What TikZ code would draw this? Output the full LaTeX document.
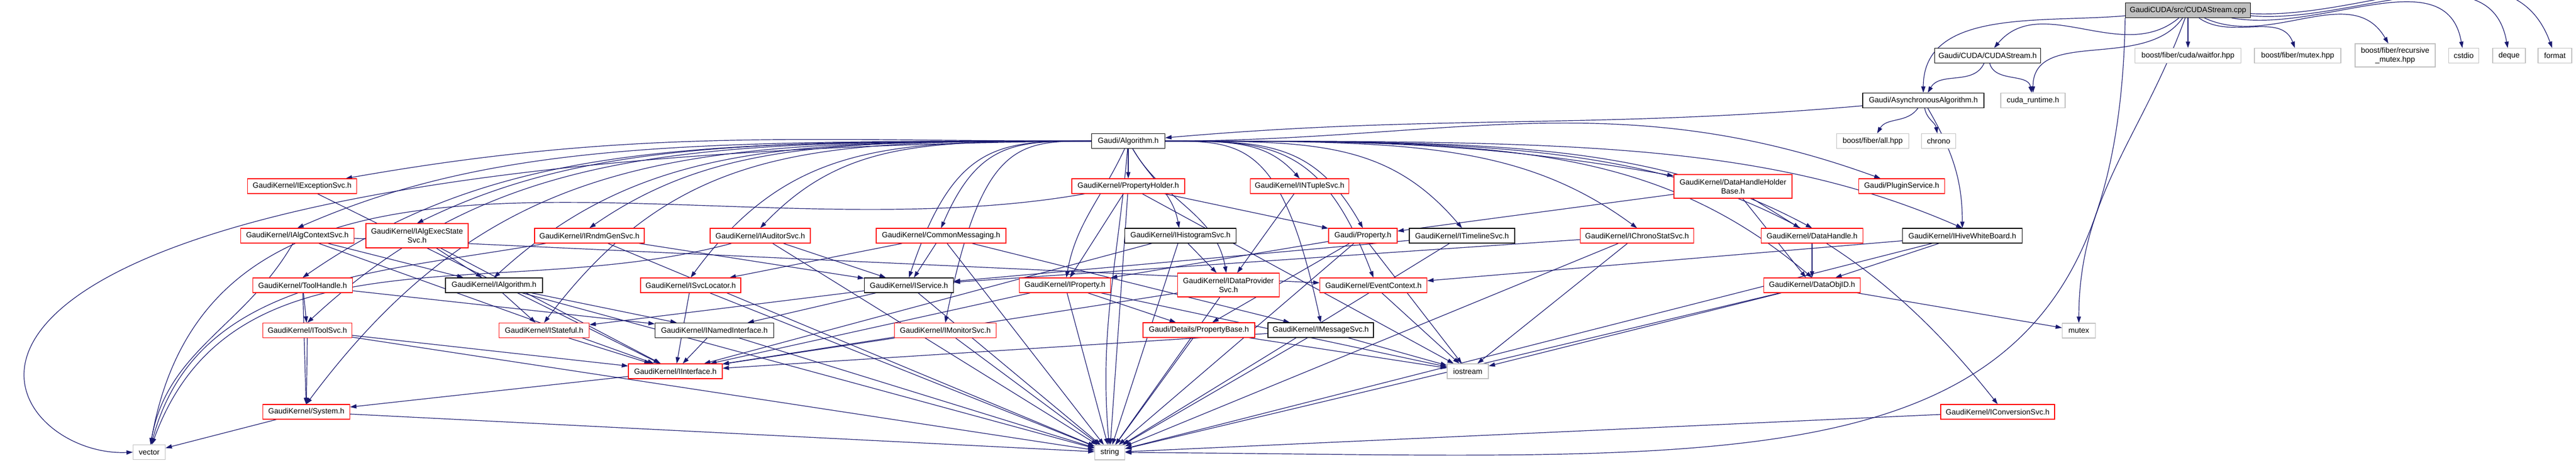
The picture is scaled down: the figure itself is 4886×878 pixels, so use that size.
\documentclass[tikz,border=0pt]{standalone}
\usepackage{fontspec}
\setmainfont{Liberation Sans}
\usetikzlibrary{arrows.meta,calc}
\pgfdeclarelayer{edges}
\pgfsetlayers{edges,main}
\definecolor{edgeblue}{HTML}{191970}
\definecolor{extgray}{HTML}{BFBFBF}
\tikzset{
    hdr/.style={
        rectangle,
        fill=white,
        line width=0.3pt,
        minimum height=7pt,
        inner xsep=1pt,
        inner ysep=0pt,
        align=center,
        font=\fontsize{3.6}{4.25}\selectfont
    },
    known/.style={draw=black},
    trunc/.style={draw=red},
    ext/.style={draw=extgray},
    root/.style={draw=black,fill=extgray},
    dep/.style={draw=edgeblue,line width=0.3pt,-{Triangle[length=3pt,width=2pt]}}
}
\newcommand{\hdr}[6] {
    \node[hdr,#5,minimum width=#4*0.25pt] (#1) at (#2,-#3) {#6};
}
\begin{document}
\begin{tikzpicture}[x=0.25pt,y=0.25pt]
    \useasboundingbox (0,0) rectangle (4886,-878);
    \hdr{cpp}{4150}{19.5}{237}{root}{GaudiCUDA/src/CUDAStream.cpp}
    \hdr{cudah}{3770}{105.5}{201}{known}{Gaudi/CUDA/CUDAStream.h}
    \hdr{waitfor}{4150}{105.5}{201}{ext}{boost/fiber/cuda/waitfor.hpp}
    \hdr{fmutex}{4358}{105.5}{164}{ext}{boost/fiber/mutex.hpp}
    \hdr{frmutex}{4543}{105}{152}{ext,minimum height=11pt}{boost/fiber/recursive\\\_mutex.hpp}
    \hdr{cstdio}{4673}{105.5}{57}{ext}{cstdio}
    \hdr{deque}{4759}{105.5}{62}{ext}{deque}
    \hdr{format}{4846}{105.5}{64}{ext}{format}
    \hdr{async}{3648}{190.5}{230}{known}{Gaudi/AsynchronousAlgorithm.h}
    \hdr{cudart}{3856}{190.5}{122}{ext}{cuda\_runtime.h}
    \hdr{alg}{2140}{267.5}{139}{known}{Gaudi/Algorithm.h}
    \hdr{fall}{3552}{267.5}{137}{ext}{boost/fiber/all.hpp}
    \hdr{chrono}{3677}{267.5}{65}{ext}{chrono}
    \hdr{iexc}{573}{353}{207}{trunc}{GaudiKernel/IExceptionSvc.h}
    \hdr{pholder}{2140}{353}{214}{trunc}{GaudiKernel/PropertyHolder.h}
    \hdr{intuple}{2465}{353}{187}{trunc}{GaudiKernel/INTupleSvc.h}
    \hdr{dhhb}{3287}{353.5}{224}{trunc,minimum height=11.25pt}{GaudiKernel/DataHandleHolder\\Base.h}
    \hdr{plugin}{3607}{353}{163}{trunc}{Gaudi/PluginService.h}
    \hdr{ialgctx}{564}{447}{215}{trunc}{GaudiKernel/IAlgContextSvc.h}
    \hdr{iexec}{791}{447}{194}{trunc,minimum height=11.5pt}{GaudiKernel/IAlgExecState\\Svc.h}
    \hdr{irndm}{1118}{447}{208}{trunc}{GaudiKernel/IRndmGenSvc.h}
    \hdr{iaud}{1442}{447}{190}{trunc}{GaudiKernel/IAuditorSvc.h}
    \hdr{cmsg}{1785}{447}{246}{trunc}{GaudiKernel/CommonMessaging.h}
    \hdr{ihist}{2239}{447}{211}{known}{GaudiKernel/IHistogramSvc.h}
    \hdr{prop}{2585}{447}{130}{trunc}{Gaudi/Property.h}
    \hdr{itime}{2773}{447}{200}{known}{GaudiKernel/ITimelineSvc.h}
    \hdr{ichrono}{3105}{447}{215}{trunc}{GaudiKernel/IChronoStatSvc.h}
    \hdr{dhandle}{3437}{447}{193}{trunc}{GaudiKernel/DataHandle.h}
    \hdr{ihive}{3722}{447}{227}{known}{GaudiKernel/IHiveWhiteBoard.h}
    \hdr{toolh}{574}{541}{189}{trunc}{GaudiKernel/ToolHandle.h}
    \hdr{ialgo}{937}{541}{184}{known}{GaudiKernel/IAlgorithm.h}
    \hdr{isvcloc}{1310}{541}{190}{trunc}{GaudiKernel/ISvcLocator.h}
    \hdr{iserv}{1724}{541}{169}{known}{GaudiKernel/IService.h}
    \hdr{iprop}{2020}{541}{173}{trunc}{GaudiKernel/IProperty.h}
    \hdr{idp}{2330}{540.5}{193}{trunc,minimum height=11.25pt}{GaudiKernel/IDataProvider\\Svc.h}
    \hdr{evctx}{2605}{541}{203}{trunc}{GaudiKernel/EventContext.h}
    \hdr{dobjid}{3437}{541}{183}{trunc}{GaudiKernel/DataObjID.h}
    \hdr{itoolsvc}{583}{626.5}{169}{trunc}{GaudiKernel/IToolSvc.h}
    \hdr{istate}{1032}{626.5}{171}{trunc}{GaudiKernel/IStateful.h}
    \hdr{inamed}{1355}{626.5}{225}{known}{GaudiKernel/INamedInterface.h}
    \hdr{imon}{1793}{626.5}{193}{trunc}{GaudiKernel/IMonitorSvc.h}
    \hdr{pbase}{2274}{626}{212}{trunc}{Gaudi/Details/PropertyBase.h}
    \hdr{imsg}{2505}{626}{200}{known}{GaudiKernel/IMessageSvc.h}
    \hdr{mutex}{3943}{627}{63}{ext}{mutex}
    \hdr{iiface}{1281}{704}{178}{trunc}{GaudiKernel/IInterface.h}
    \hdr{iostream}{2784}{704}{78}{ext}{iostream}
    \hdr{system}{581}{781}{165}{trunc}{GaudiKernel/System.h}
    \hdr{iconv}{3789}{781}{216}{trunc}{GaudiKernel/IConversionSvc.h}
    \hdr{vector}{283}{857.5}{61}{ext}{vector}
    \hdr{string}{2105}{858}{57}{ext}{string}
    \begin{pgfonlayer}{edges}
    \fill[white] (0,0) rectangle (4886,-878);
    \foreach \sn/\tn/\ao/\ai in {
        cpp/async/185/90, cpp/cudah/-140/50, cpp/cudart/-125/90, cpp/mutex/-110/90,
        cpp/waitfor/-90/90, cpp/fmutex/-35/110, cpp/frmutex/-25/120,
        cpp/cstdio/-10/100, cpp/deque/-5/100, cpp/format/-3/110,
        cudah/async/-115/60, cudah/cudart/-75/100,
        async/alg/185/5, async/fall/-125/60, async/chrono/-80/100, async/ihive/-60/90,
        alg/iexc/180/10, alg/dhhb/0/170, alg/plugin/0/160, alg/pholder/-90/90,
        alg/ihist/-60/100, alg/iprop/-115/80, alg/idp/-60/100, alg/string/-95/95,
        pholder/vector/190/80, ialgctx/vector/-120/80, irndm/vector/190/75,
        iaud/vector/195/70}
        \draw[dep] (\sn) to[out=\ao,in=\ai] (\tn);
    \foreach \tn in {ialgctx,iexec,irndm,iaud,cmsg,toolh,ialgo,isvcloc,iserv,
                     itoolsvc,istate,system,imon}
        \draw[dep] (alg.west) .. controls ($(alg.west)!0.5!(\tn.north|-alg.west)$)
            and ($(\tn.north|-alg.west)!0.25!(alg.west)$) .. (\tn.north);
    \foreach \tn in {intuple,prop,itime,evctx,ichrono,dhandle,dobjid,ihive,imsg,iconv}
        \draw[dep] (alg.east) .. controls ($(alg.east)!0.5!(\tn.north|-alg.east)$)
            and ($(\tn.north|-alg.east)!0.25!(alg.east)$) .. (\tn.north);
    \draw[dep] (alg.west) .. controls (-400,-290) and (-30,-870) .. (vector.west);
    \draw[dep] (cpp.south west) .. controls (4015,-950) and (3400,-865) .. (string.east);
    \foreach \sn/\tn in {
        iexc/iiface, pholder/iprop, pholder/prop, pholder/string, pholder/iostream,
        intuple/idp, dhhb/dhandle, dhhb/dobjid, dhhb/prop, ialgctx/ialgo,
        ialgctx/iiface, ialgctx/evctx, iexec/ialgo, iexec/iiface, irndm/iserv,
        irndm/string, iaud/iserv, iaud/string, cmsg/isvcloc, cmsg/iserv,
        cmsg/imsg, cmsg/string, ihist/idp, ihist/iiface, ihist/string,
        prop/pbase, prop/iprop, prop/iostream, prop/string, itime/iserv,
        itime/string, ichrono/iserv, ichrono/string, ichrono/iostream,
        dhandle/dobjid, ihive/dobjid, ihive/evctx, ihive/string, toolh/itoolsvc,
        toolh/system, toolh/inamed, ialgo/istate, ialgo/inamed, ialgo/string,
        isvcloc/iiface, isvcloc/string, iserv/istate, iserv/inamed, iserv/string,
        iprop/iiface, iprop/pbase, iprop/string, iprop/iostream, idp/iiface,
        idp/string, evctx/iostream, dobjid/mutex, dobjid/iostream, dobjid/string,
        itoolsvc/system, itoolsvc/iiface, itoolsvc/string, istate/iiface,
        inamed/iiface, inamed/string, imon/iiface, imon/string, pbase/string,
        pbase/iostream, imsg/iiface, imsg/string, imsg/iostream, iiface/system,
        system/vector, system/string, iconv/string}
        \draw[dep] (\sn) -- (\tn);
    \end{pgfonlayer}
\end{tikzpicture}
\end{document}
